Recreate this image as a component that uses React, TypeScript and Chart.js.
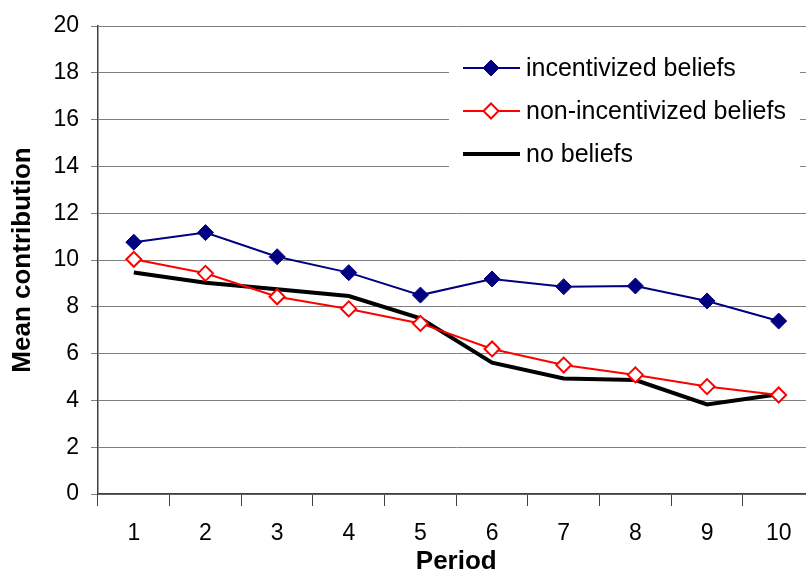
import React, { useEffect, useRef } from "react";
import { Chart, registerables } from "chart.js";

Chart.register(...registerables);

const periods = ["1", "2", "3", "4", "5", "6", "7", "8", "9", "10"];
const incentivized = [10.76, 11.17, 10.14, 9.46, 8.5, 9.19, 8.86, 8.89, 8.25, 7.39];
const nonIncentivized = [10.03, 9.43, 8.43, 7.91, 7.29, 6.2, 5.51, 5.09, 4.59, 4.23];
const noBeliefs = [9.47, 9.03, 8.75, 8.46, 7.51, 5.61, 4.94, 4.87, 3.83, 4.26];
const seriesNames = ["incentivized beliefs", "non-incentivized beliefs", "no beliefs"];

const FONT = "'Liberation Sans', Arial, sans-serif";

const insetLegend = {
  id: "insetLegend",
  afterDraw(chart: any) {
    const ctx = chart.ctx as CanvasRenderingContext2D;
    ctx.save();
    ctx.fillStyle = "#ffffff";
    ctx.fillRect(449, 45, 351, 140);
    chart.data.datasets.forEach((ds: any, i: number) => {
      const y = 68 + i * 43;
      ctx.beginPath();
      ctx.strokeStyle = ds.borderColor;
      ctx.lineWidth = ds.borderWidth;
      ctx.moveTo(463, y);
      ctx.lineTo(520, y);
      ctx.stroke();
      if (ds.pointRadius > 0) {
        const r = ds.pointRadius;
        const cx = 491;
        ctx.beginPath();
        ctx.moveTo(cx, y - r);
        ctx.lineTo(cx + r, y);
        ctx.lineTo(cx, y + r);
        ctx.lineTo(cx - r, y);
        ctx.closePath();
        ctx.fillStyle = ds.pointBackgroundColor;
        ctx.fill();
        ctx.lineWidth = ds.pointBorderWidth;
        ctx.strokeStyle = ds.pointBorderColor;
        ctx.stroke();
      }
      ctx.fillStyle = "#000";
      ctx.font = `25px ${FONT}`;
      ctx.textBaseline = "middle";
      ctx.textAlign = "left";
      ctx.fillText(ds.label, 526, y + 1);
    });
    ctx.restore();
  },
};

export default function App() {
  const ref = useRef<HTMLCanvasElement>(null);
  useEffect(() => {
    if (!ref.current) return;
    const chart = new Chart(ref.current, {
      type: "line",
      data: {
        labels: periods,
        datasets: [
          {
            label: seriesNames[0],
            data: incentivized,
            borderColor: "#000080",
            borderWidth: 2,
            pointStyle: "rectRot",
            pointRadius: 8,
            pointBackgroundColor: "#000080",
            pointBorderColor: "#000080",
            pointBorderWidth: 1,
            tension: 0,
          },
          {
            label: seriesNames[1],
            data: nonIncentivized,
            borderColor: "#ff0000",
            borderWidth: 2,
            pointStyle: "rectRot",
            pointRadius: 7.5,
            pointBackgroundColor: "#ffffff",
            pointBorderColor: "#ff0000",
            pointBorderWidth: 2,
            tension: 0,
          },
          {
            label: seriesNames[2],
            data: noBeliefs,
            borderColor: "#000000",
            borderWidth: 4,
            pointRadius: 0,
            tension: 0,
          },
        ],
      },
      options: {
        animation: false,
        responsive: false,
        devicePixelRatio: 1,
        layout: { padding: { top: 26, left: 0, right: 0, bottom: 0 } },
        plugins: { legend: { display: false }, tooltip: { enabled: false } },
        scales: {
          x: {
            offset: true,
            grid: {
              offset: true,
              drawOnChartArea: false,
              drawTicks: true,
              tickLength: 12,
              color: "#404040",
            },
            border: { color: "#404040", width: 1.5 },
            ticks: { color: "#000", font: { family: FONT, size: 23 }, padding: 14, maxRotation: 0 },
            title: {
              display: true,
              text: "Period",
              color: "#000",
              font: { family: FONT, size: 26, weight: "bold", lineHeight: 1 },
              padding: { top: 0, bottom: -4 },
            },
            afterFit: (s: any) => {
              s.height = 77;
            },
          },
          y: {
            min: 0,
            max: 20,
            ticks: { stepSize: 2, color: "#000", font: { family: FONT, size: 23 }, padding: 12 },
            grid: { color: "#808080", lineWidth: 1, tickLength: 7 },
            border: { color: "#404040", width: 1.5 },
            title: {
              display: true,
              text: "Mean contribution",
              color: "#000",
              font: { family: FONT, size: 26, weight: "bold", lineHeight: 1 },
              padding: { top: 10, bottom: 0 },
            },
            afterFit: (s: any) => {
              s.width = 98;
            },
          },
        },
      },
      plugins: [insetLegend],
    });
    return () => chart.destroy();
  }, []);
  return (
    <div
      style={{
        position: "fixed",
        left: 0,
        top: 0,
        width: 806,
        height: 571,
        overflow: "hidden",
        background: "#fff",
      }}
    >
      <canvas ref={ref} width={824} height={571} />
    </div>
  );
}
